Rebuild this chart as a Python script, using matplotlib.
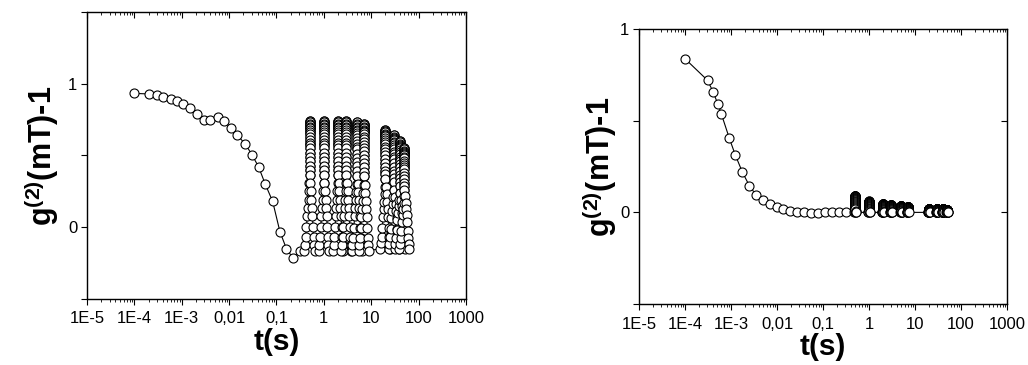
import numpy as np
import matplotlib.pyplot as plt
from matplotlib.ticker import LogLocator

plt.rcParams['font.family'] = ['Liberation Sans', 'DejaVu Sans']
plt.rcParams['mathtext.fontset'] = 'custom'
plt.rcParams['mathtext.bf'] = 'Liberation Sans:bold'
plt.rcParams['mathtext.rm'] = 'Liberation Sans'

# --- left panel: decay curve before the repeated columns ---
t_left = [1e-4, 2e-4, 3e-4, 4e-4, 6e-4, 8e-4, 1.07e-3, 1.5e-3, 2.1e-3, 3e-3,
          4e-3, 5.7e-3, 7.8e-3, 0.011, 0.015, 0.022, 0.031, 0.042, 0.058,
          0.083, 0.118, 0.162, 0.224, 0.32]
g_left = [0.933, 0.929, 0.92, 0.91, 0.896, 0.88, 0.86, 0.83, 0.79, 0.75,
          0.75, 0.77, 0.74, 0.69, 0.64, 0.58, 0.50, 0.42, 0.30,
          0.18, -0.03, -0.15, -0.216, -0.166]

# --- right panel: decay curve ---
t_right = [1e-4, 3.1e-4, 4.1e-4, 5.2e-4, 6.2e-4, 9.2e-4, 1.24e-3, 1.77e-3,
           2.5e-3, 3.5e-3, 5e-3, 6.9e-3, 9.8e-3, 0.0138, 0.0195, 0.0275,
           0.039, 0.056, 0.079, 0.112, 0.158, 0.223, 0.32]
g_right = [0.838, 0.72, 0.656, 0.59, 0.535, 0.404, 0.313, 0.219,
           0.146, 0.095, 0.066, 0.047, 0.031, 0.018, 0.007, 0.004,
           0.0, -0.002, -0.002, 0.001, 0.0, 0.0, 0.0]

# repeated measurement columns (same times in both panels)
col_times = [0.5, 1, 2, 3, 5, 7, 20, 30, 40, 50]
col_top_left = [0.74, 0.74, 0.74, 0.74, 0.73, 0.72, 0.68, 0.64, 0.60, 0.55]
col_bot_left = [-0.163, -0.163, -0.163, -0.163, -0.163, -0.163, -0.15, -0.15, -0.15, -0.15]
col_top_right = [0.09, 0.06, 0.045, 0.04, 0.035, 0.03, 0.02, 0.02, 0.02, 0.015]
col_bot_right = [0.0] * 10

# point levels in one column (bottom -> top), read from the 0.5 s column
col_levels = [-0.163, -0.122, -0.071, -0.002, 0.078, 0.136, 0.193, 0.25, 0.308,
              0.366, 0.40, 0.43, 0.46, 0.49, 0.52, 0.55, 0.57, 0.59, 0.61,
              0.63, 0.65, 0.665, 0.68, 0.69, 0.70, 0.71, 0.72, 0.73, 0.74]
# time offsets of rising leg (bottom -> top) and falling leg (top -> bottom)
up_left = [0.78, 0.8, 0.83, 0.86, 0.89, 0.92, 0.95, 0.97, 0.99] + [1.0] * 20
down_left = [1.0] * 20 + [1.03, 1.06, 1.09, 1.12, 1.15, 1.18, 1.21, 1.24, 1.27]
up_right = [0.96, 0.97, 0.98, 0.99] + [1.0] * 25
down_right = [1.0] * 25 + [1.01, 1.02, 1.03, 1.04]

xticks = [1e-5, 1e-4, 1e-3, 1e-2, 1e-1, 1, 10, 100, 1000]
xticklabels = ['1E-5', '1E-4', '1E-3', '0,01', '0,1', '1', '10', '100', '1000']


def build(t0, g0, tops, bots, up_f, down_f):
    t = list(t0)
    g = list(g0)
    lv = np.array(col_levels)
    frac = (lv - lv[0]) / (lv[-1] - lv[0])
    for tc, top, bot in zip(col_times, tops, bots):
        vals = bot + frac * (top - bot)
        t += [tc * f for f in up_f]
        g += list(vals)
        t += [tc * f for f in down_f]
        g += list(vals[::-1])
    return t, g


def style(ax, ylim, lpad):
    ax.set_xscale('log')
    ax.set_xlim(1e-5, 1000)
    ax.set_ylim(*ylim)
    ax.set_xticks(xticks)
    ax.set_xticklabels(xticklabels)
    ax.xaxis.set_minor_locator(LogLocator(base=10, subs=np.arange(2, 10), numticks=20))
    ax.xaxis.set_minor_formatter(plt.NullFormatter())
    yt = np.arange(ylim[0], ylim[1] + 0.01, 0.5)
    ax.set_yticks(yt)
    ax.set_yticklabels([{0.0: '0', 1.0: '1'}.get(round(v, 1), '') for v in yt])
    ax.tick_params(which='major', direction='out', length=4, width=0.8, labelsize=12, pad=3)
    ax.tick_params(axis='x', which='major', pad=5)
    ax.tick_params(which='minor', direction='out', length=2, width=0.6)
    for s in ax.spines.values():
        s.set_linewidth(0.9)
        s.set_color('#222222')
    # inward ticks on top and right
    tx = ax.twiny()
    tx.set_xscale('log')
    tx.set_xlim(ax.get_xlim())
    tx.set_xticks(xticks)
    tx.xaxis.set_minor_locator(LogLocator(base=10, subs=np.arange(2, 10), numticks=20))
    tx.tick_params(which='major', direction='in', length=4, width=0.8, labeltop=False)
    tx.tick_params(which='minor', direction='in', length=2, width=0.6)
    ty = ax.twinx()
    ty.set_ylim(ax.get_ylim())
    ty.set_yticks(yt)
    ty.tick_params(direction='in', length=4, width=0.8, labelright=False)
    ax.set_xlabel('t(s)', fontsize=21.5, fontweight='bold', labelpad=1)
    ax.set_ylabel(r'$\mathbf{g^{(2)}}$(mT)-1', fontsize=22, fontweight='bold', labelpad=lpad)


fig = plt.figure(figsize=(10.28, 3.65), dpi=100)
ax1 = fig.add_axes([0.0846, 0.181, 0.3687, 0.786])
ax2 = fig.add_axes([0.6216, 0.167, 0.358, 0.7534])

tl, gl = build(t_left, g_left, col_top_left, col_bot_left, up_left, down_left)
tr, gr = build(t_right, g_right, col_top_right, col_bot_right, up_right, down_right)

ax1.plot(tl, gl, color='black', lw=0.8, marker='o', ms=6.5, mfc='white',
         mec='black', mew=0.8)
ax2.plot(tr, gr, color='black', lw=0.8, marker='o', ms=6.5, mfc='white',
         mec='black', mew=0.8)

style(ax1, (-0.5, 1.5), 5)
style(ax2, (-0.5, 1.0), 1)

fig.savefig('out.png', dpi=100)
